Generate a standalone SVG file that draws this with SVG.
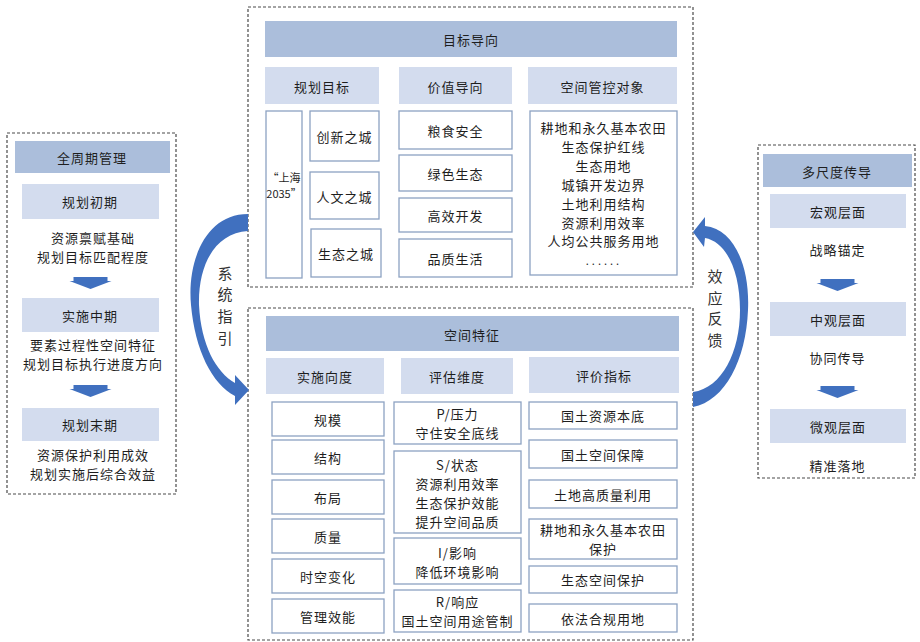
<svg xmlns="http://www.w3.org/2000/svg" width="920" height="642" viewBox="0 0 920 642">
<style>
  text { font-family: "Noto Sans CJK SC", "Noto Sans", sans-serif; font-size: 13px; letter-spacing: 1px; fill: #1e1e1e; text-anchor: middle; dominant-baseline: central; }
  .panel { fill: #ffffff; stroke: #4a4a4a; stroke-width: 1.2; stroke-dasharray: 3 2; }
  .hd { fill: #abbedb; }
  .sub { fill: #d3dcee; }
  .box { fill: #ffffff; stroke: #8da2c2; stroke-width: 1.3; }
  .blk { fill: #4070bf; }
  .small { font-size: 11px; letter-spacing: 0; }
  .dots { font-size: 11px; letter-spacing: 3px; }
  .vlab { font-size: 15px; letter-spacing: 0; fill: #333; }
</style>
<defs>
  <polygon id="downArrow" points="-17,0 17,0 17,4 21,4 0,12 -21,4 -17,4"/>
</defs>
<rect x="0" y="0" width="920" height="642" fill="#ffffff"/>

<!-- Left panel: 全周期管理 -->
<g id="lifecycle">
  <rect class="panel" x="7" y="133" width="169" height="361"/>
  <rect class="hd" x="15" y="141" width="155" height="32"/>
  <text x="92" y="157">全周期管理</text>
  <g id="early">
    <rect class="sub" x="22" y="184" width="137" height="35"/>
    <text x="90" y="201.5">规划初期</text>
    <text x="93" y="237">资源禀赋基础</text>
    <text x="93" y="256">规划目标匹配程度</text>
  </g>
  <use href="#downArrow" class="blk" x="90.5" y="277"/>
  <g id="middle">
    <rect class="sub" x="22" y="298" width="137" height="34"/>
    <text x="90" y="315">实施中期</text>
    <text x="93" y="344">要素过程性空间特征</text>
    <text x="93" y="363">规划目标执行进度方向</text>
  </g>
  <use href="#downArrow" class="blk" x="90.5" y="385"/>
  <g id="late">
    <rect class="sub" x="22" y="408" width="137" height="33"/>
    <text x="90" y="424.5">规划末期</text>
    <text x="93" y="454">资源保护利用成效</text>
    <text x="93" y="473">规划实施后综合效益</text>
  </g>
</g>

<!-- Top panel: 目标导向 -->
<g id="goal">
  <rect class="panel" x="248" y="7" width="445" height="280"/>
  <rect class="hd" x="265" y="21" width="412" height="36"/>
  <text x="471" y="39">目标导向</text>
  <g id="plan-target">
    <rect class="sub" x="265" y="67" width="114" height="37"/>
    <text x="322" y="86">规划目标</text>
    <rect class="box" x="266" y="111" width="36" height="167"/>
    <text class="small" x="284" y="177">“上海</text>
    <text class="small" x="284" y="193">2035”</text>
    <rect class="box" x="310" y="111" width="69" height="50"/>
    <text x="344.5" y="136">创新之城</text>
    <rect class="box" x="310" y="172" width="69" height="47"/>
    <text x="344.5" y="196">人文之城</text>
    <rect class="box" x="311" y="229" width="70" height="48"/>
    <text x="346" y="253">生态之城</text>
  </g>
  <g id="value">
    <rect class="sub" x="399" y="67" width="113" height="37"/>
    <text x="455.5" y="86">价值导向</text>
    <rect class="box" x="399" y="111" width="113" height="38"/>
    <text x="455.5" y="130">粮食安全</text>
    <rect class="box" x="399" y="155" width="113" height="36"/>
    <text x="455.5" y="173">绿色生态</text>
    <rect class="box" x="399" y="198" width="113" height="34"/>
    <text x="455.5" y="215">高效开发</text>
    <rect class="box" x="399" y="239" width="113" height="38"/>
    <text x="455.5" y="258">品质生活</text>
  </g>
  <g id="control">
    <rect class="sub" x="528" y="67" width="149" height="37"/>
    <text x="602.5" y="86">空间管控对象</text>
    <rect class="box" x="530" y="111" width="147" height="164"/>
    <text x="603.5" y="127.5">耕地和永久基本农田</text>
    <text x="603.5" y="146.4">生态保护红线</text>
    <text x="603.5" y="165.3">生态用地</text>
    <text x="603.5" y="184.2">城镇开发边界</text>
    <text x="603.5" y="203.1">土地利用结构</text>
    <text x="603.5" y="222">资源利用效率</text>
    <text x="603.5" y="240.9">人均公共服务用地</text>
    <text class="dots" x="604" y="260">......</text>
  </g>
</g>

<!-- Bottom panel: 空间特征 -->
<g id="spatial">
  <rect class="panel" x="248" y="308" width="445" height="332"/>
  <rect class="hd" x="266" y="316" width="413" height="35"/>
  <text x="472" y="334">空间特征</text>
  <g id="implement">
    <rect class="sub" x="266" y="358" width="118" height="36"/>
    <text x="325" y="376">实施向度</text>
    <rect class="box" x="272" y="402" width="112" height="34"/>
    <text x="328" y="419">规模</text>
    <rect class="box" x="272" y="440" width="112" height="34"/>
    <text x="328" y="457">结构</text>
    <rect class="box" x="272" y="480" width="112" height="34"/>
    <text x="328" y="497">布局</text>
    <rect class="box" x="272" y="519" width="112" height="34"/>
    <text x="328" y="536">质量</text>
    <rect class="box" x="272" y="559" width="112" height="34"/>
    <text x="328" y="576">时空变化</text>
    <rect class="box" x="272" y="599" width="112" height="34"/>
    <text x="328" y="616">管理效能</text>
  </g>
  <g id="assess">
    <rect class="sub" x="401" y="358" width="112" height="36"/>
    <text x="457" y="376">评估维度</text>
    <rect class="box" x="394" y="402" width="127" height="42"/>
    <text x="457.5" y="413.5">P/压力</text>
    <text x="457.5" y="432.5">守住安全底线</text>
    <rect class="box" x="394" y="451" width="127" height="82"/>
    <text x="457.5" y="464">S/状态</text>
    <text x="457.5" y="483">资源利用效率</text>
    <text x="457.5" y="502">生态保护效能</text>
    <text x="457.5" y="521">提升空间品质</text>
    <rect class="box" x="394" y="538" width="127" height="46"/>
    <text x="457.5" y="552">I/影响</text>
    <text x="457.5" y="571">降低环境影响</text>
    <rect class="box" x="394" y="590" width="127" height="42"/>
    <text x="457.5" y="601.5">R/响应</text>
    <text x="457.5" y="620.5">国土空间用途管制</text>
  </g>
  <g id="indicator">
    <rect class="sub" x="529" y="357" width="150" height="36"/>
    <text x="604" y="375">评价指标</text>
    <rect class="box" x="529" y="402" width="148" height="27"/>
    <text x="603" y="415.5">国土资源本底</text>
    <rect class="box" x="529" y="440" width="148" height="28"/>
    <text x="603" y="454">国土空间保障</text>
    <rect class="box" x="529" y="480" width="148" height="28"/>
    <text x="603" y="494">土地高质量利用</text>
    <rect class="box" x="529" y="519" width="148" height="40"/>
    <text x="603" y="529.5">耕地和永久基本农田</text>
    <text x="603" y="548.5">保护</text>
    <rect class="box" x="529" y="566" width="148" height="27"/>
    <text x="603" y="579.5">生态空间保护</text>
    <rect class="box" x="529" y="604" width="148" height="28"/>
    <text x="603" y="618">依法合规用地</text>
  </g>
</g>

<!-- Right panel: 多尺度传导 -->
<g id="multiscale">
  <rect class="panel" x="758" y="145" width="157" height="333"/>
  <rect class="hd" x="763" y="154" width="149" height="33"/>
  <text x="837" y="171">多尺度传导</text>
  <g id="macro">
    <rect class="sub" x="770" y="194" width="136" height="34"/>
    <text x="838" y="211">宏观层面</text>
    <text x="837.5" y="249">战略锚定</text>
  </g>
  <use href="#downArrow" class="blk" x="837.5" y="279"/>
  <g id="meso">
    <rect class="sub" x="770" y="302" width="136" height="34"/>
    <text x="838" y="319">中观层面</text>
    <text x="837.5" y="357">协同传导</text>
  </g>
  <use href="#downArrow" class="blk" x="837.5" y="386"/>
  <g id="micro">
    <rect class="sub" x="770" y="409" width="136" height="34"/>
    <text x="838" y="426">微观层面</text>
    <text x="837.5" y="465">精准落地</text>
  </g>
</g>

<!-- Connectors -->
<g id="connectors">
  <path class="blk" d="M248,214 C205,214 187,262 191,305 C195,350 212,384 235,396 L235,405 L249,390 L235,375 L235,383 C216,372 201,345 199,305 C198,265 215,233 248,231 Z"/>
  <path class="blk" d="M693,407 C725,401 746,360 748,310 C750,268 735,229 705,226 L705,217 L693,232 L704,247 L705,238 C727,242 740,272 740,310 C740,352 722,388 693,392 Z"/>
  <g id="label-guide">
    <text class="vlab" x="225" y="272">系</text>
    <text class="vlab" x="225" y="293">统</text>
    <text class="vlab" x="225" y="315">指</text>
    <text class="vlab" x="225" y="337">引</text>
  </g>
  <g id="label-feedback">
    <text class="vlab" x="715" y="275">效</text>
    <text class="vlab" x="715" y="297">应</text>
    <text class="vlab" x="715" y="317">反</text>
    <text class="vlab" x="715" y="339">馈</text>
  </g>
</g>
</svg>
